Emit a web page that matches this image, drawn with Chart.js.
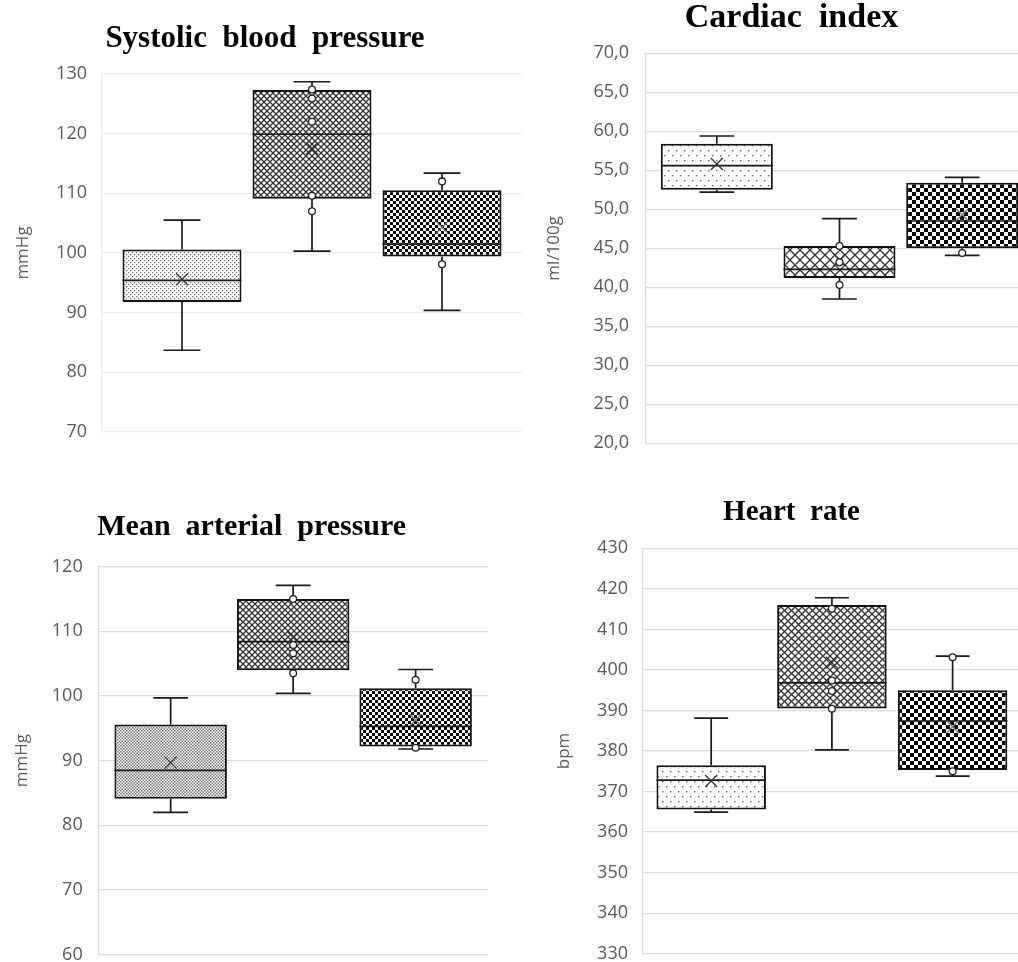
<!DOCTYPE html>
<html>
<head>
<meta charset="utf-8">
<script src="https://cdn.jsdelivr.net/npm/chart.js@4.4.1/dist/chart.umd.min.js"></script>
<style>
  html, body { margin: 0; padding: 0; background: #fff; }
  #page { position: relative; width: 1018px; height: 962px; overflow: hidden; background: #fff; }
  #page canvas { position: absolute; }
</style>
</head>
<body>
<div id="page">
  <canvas id="sbp"></canvas>
  <canvas id="ci"></canvas>
  <canvas id="map"></canvas>
  <canvas id="hr"></canvas>
</div>
<script>
/* ---------- data ---------- */
const groups = ["Group 1", "Group 2", "Group 3"];

// Systolic blood pressure (mmHg)
const sbpLow    = [83.7, 100.3, 90.4];
const sbpQ1     = [91.8, 109.1, 99.4];
const sbpMedian = [95.4, 119.9, 101.5];
const sbpQ3     = [100.6, 127.3, 110.5];
const sbpHigh   = [105.5, 128.7, 113.4];
const sbpMean   = [95.6, 117.5, 104.3];
const sbpPoints = [[], [127.4, 125.9, 122.0, 109.6, 107.0], [112.0, 98.1]];

// Cardiac index (ml/100g)
const ciLow    = [52.2, 38.5, 44.1];
const ciQ1     = [52.5, 41.2, 45.0];
const ciMedian = [55.6, 42.3, 48.5];
const ciQ3     = [58.4, 45.3, 53.4];
const ciHigh   = [59.4, 48.8, 54.1];
const ciMean   = [55.8, 43.5, 49.3];
const ciPoints = [[], [45.3, 43.2, 40.3], [44.4]];

// Mean arterial pressure (mmHg)
const mapLow    = [82.0, 100.4, 91.8];
const mapQ1     = [84.1, 104.0, 92.2];
const mapMedian = [88.5, 108.4, 95.3];
const mapQ3     = [95.6, 115.0, 101.2];
const mapHigh   = [99.7, 117.1, 104.1];
const mapMean   = [89.7, 109.1, 96.3];
const mapPoints = [[], [115.0, 107.9, 106.6, 103.5], [102.5, 92.0]];

// Heart rate (bpm)
const hrLow    = [364.9, 380.3, 373.8];
const hrQ1     = [365.6, 390.5, 375.3];
const hrMedian = [372.8, 396.8, 387.4];
const hrQ3     = [376.5, 416.0, 395.0];
const hrHigh   = [388.1, 417.8, 403.4];
const hrMean   = [372.6, 401.8, 386.0];
const hrPoints = [[], [415.1, 397.4, 394.8, 390.4], [403.1, 375.0]];

/* ---------- fill patterns ---------- */
function tileCanvas(w, h) {
  const c = document.createElement("canvas");
  c.width = w; c.height = h;
  const g = c.getContext("2d");
  g.fillStyle = "#fff";
  g.fillRect(0, 0, w, h);
  return [c, g];
}
function dots(sx, sy, r, color) {
  const [c, g] = tileCanvas(sx, sy * 2);
  g.fillStyle = color;
  g.fillRect(0, 0, r, r);
  g.fillRect(sx / 2, sy, r, r);
  return g.createPattern(c, "repeat");
}
function hatch(s, color, lw) {
  const [c, g] = tileCanvas(s, s);
  g.strokeStyle = color;
  g.lineWidth = lw;
  g.beginPath();
  g.moveTo(-1, -1); g.lineTo(s + 1, s + 1);
  g.moveTo(-1, s + 1); g.lineTo(s + 1, -1);
  g.stroke();
  return g.createPattern(c, "repeat");
}
function checker(s) {
  const [c, g] = tileCanvas(s * 2, s * 2);
  g.fillStyle = "#000";
  g.fillRect(0, 0, s, s);
  g.fillRect(s, s, s, s);
  return g.createPattern(c, "repeat");
}

/* ---------- whiskers, medians, means, points ---------- */
function boxExtras(st) {
  return {
    id: "boxExtras",
    afterDatasetsDraw(chart) {
      const ctx = chart.ctx;
      const y = chart.scales.y;
      ctx.save();
      groups.forEach((g, i) => {
        const bar = chart.getDatasetMeta(i).data[0];
        const x = bar.x, w = bar.width, cap = w * 0.31;
        ctx.strokeStyle = "#1a1a1a";
        ctx.lineWidth = 1.7;
        ctx.beginPath();
        // median
        ctx.moveTo(x - w / 2, y.getPixelForValue(st.median[i]));
        ctx.lineTo(x + w / 2, y.getPixelForValue(st.median[i]));
        // upper whisker
        ctx.moveTo(x, y.getPixelForValue(st.q3[i]));
        ctx.lineTo(x, y.getPixelForValue(st.high[i]));
        ctx.moveTo(x - cap / 2, y.getPixelForValue(st.high[i]));
        ctx.lineTo(x + cap / 2, y.getPixelForValue(st.high[i]));
        // lower whisker
        ctx.moveTo(x, y.getPixelForValue(st.q1[i]));
        ctx.lineTo(x, y.getPixelForValue(st.low[i]));
        ctx.moveTo(x - cap / 2, y.getPixelForValue(st.low[i]));
        ctx.lineTo(x + cap / 2, y.getPixelForValue(st.low[i]));
        ctx.stroke();
        // mean marker
        const my = y.getPixelForValue(st.mean[i]);
        ctx.strokeStyle = i === 2 ? "#777" : "#333";
        ctx.lineWidth = 1.3;
        ctx.beginPath();
        ctx.moveTo(x - 6, my - 6); ctx.lineTo(x + 6, my + 6);
        ctx.moveTo(x - 6, my + 6); ctx.lineTo(x + 6, my - 6);
        ctx.stroke();
        // data points
        ctx.strokeStyle = "#222";
        ctx.lineWidth = 1.3;
        st.points[i].forEach(v => {
          ctx.beginPath();
          ctx.arc(x, y.getPixelForValue(v), 3.4, 0, Math.PI * 2);
          ctx.fillStyle = "#fff";
          ctx.fill();
          ctx.stroke();
        });
      });
      ctx.restore();
    }
  };
}

/* ---------- one panel ---------- */
function boxChart(id, st, L) {
  const el = document.getElementById(id);
  el.width = L.cw; el.height = L.ch;
  el.style.left = L.cx + "px";
  el.style.top = L.cy + "px";

  const innerLeft = 2 * L.titleX - L.plotR;
  const titleLh = L.titleSize * 1.2;

  new Chart(el, {
    type: "bar",
    data: {
      labels: [L.title],
      datasets: groups.map((g, i) => ({
        label: g,
        data: [[st.q1[i], st.q3[i]]],
        backgroundColor: L.fills[i],
        borderColor: "#111",
        borderWidth: 2,
        borderSkipped: false,
        categoryPercentage: L.catPct,
        barPercentage: L.barPct
      }))
    },
    options: {
      responsive: false,
      animation: false,
      devicePixelRatio: 1,
      events: [],
      layout: {
        padding: {
          left: innerLeft - L.cx,
          right: L.cx + L.cw - L.plotR,
          top: 0,
          bottom: L.cy + L.ch - L.plotB
        }
      },
      plugins: {
        legend: { display: false },
        tooltip: { enabled: false },
        title: {
          display: true,
          text: L.titleText,
          color: "#000",
          font: { family: '"Liberation Serif", "Times New Roman", serif', size: L.titleSize, weight: "bold", lineHeight: 1.2 },
          padding: { top: L.titleY - L.cy - titleLh / 2, bottom: L.plotT - L.titleY - titleLh / 2 }
        }
      },
      scales: {
        x: { display: false },
        y: {
          min: L.min,
          max: L.max,
          ticks: {
            stepSize: L.step,
            color: "#595959",
            padding: L.plotL - L.tickRight,
            font: { family: '"Open Sans", sans-serif', size: 18 },
            callback: L.fmt
          },
          grid: { color: L.gridColor, lineWidth: 1.2, drawTicks: false },
          border: { display: true, color: L.gridColor, width: 1.2 },
          title: {
            display: true,
            text: L.unit,
            color: "#595959",
            font: { family: '"Open Sans", sans-serif', size: 17, lineHeight: 1 },
            padding: { top: L.unitX - innerLeft - 8.5, bottom: 0 }
          },
          afterFit(scale) { scale.width = L.plotL - innerLeft; }
        }
      }
    },
    plugins: [boxExtras(st)]
  });
}

const intFmt = v => String(v);
const commaFmt = v => v.toFixed(1).replace(".", ",");

boxChart("sbp",
  { low: sbpLow, q1: sbpQ1, median: sbpMedian, q3: sbpQ3, high: sbpHigh, mean: sbpMean, points: sbpPoints },
  { cx: 0, cy: 0, cw: 530, ch: 481,
    plotL: 102, plotR: 522, plotT: 74, plotB: 432, tickRight: 87, unitX: 23,
    titleText: "Systolic  blood  pressure", title: "Systolic blood pressure", titleX: 265, titleY: 38.5, titleSize: 31,
    unit: "mmHg", min: 70, max: 130, step: 10, fmt: intFmt, gridColor: "#ececec",
    catPct: 0.9286, barPct: 0.915,
    fills: [dots(4, 2, 1.2, "#6a6a6a"), hatch(6, "#333", 1.3), checker(3)] });

boxChart("ci",
  { low: ciLow, q1: ciQ1, median: ciMedian, q3: ciQ3, high: ciHigh, mean: ciMean, points: ciPoints },
  { cx: 540, cy: -20, cw: 500, ch: 500,
    plotL: 646, plotR: 1033, plotT: 53.3, plotB: 443.3, tickRight: 629, unitX: 554,
    titleText: "Cardiac  index", title: "Cardiac index", titleX: 791.5, titleY: 18.5, titleSize: 34,
    unit: "ml/100g", min: 20, max: 70, step: 5, fmt: commaFmt, gridColor: "#dcdcdc",
    catPct: 0.951, barPct: 0.913,
    fills: [dots(8, 5, 1.4, "#666"), hatch(10, "#333", 1.3), checker(4)] });

boxChart("map",
  { low: mapLow, q1: mapQ1, median: mapMedian, q3: mapQ3, high: mapHigh, mean: mapMean, points: mapPoints },
  { cx: 0, cy: 481, cw: 500, ch: 500,
    plotL: 98.3, plotR: 488, plotT: 566.7, plotB: 957.3, tickRight: 82.7, unitX: 21.7,
    titleText: "Mean  arterial  pressure", title: "Mean arterial pressure", titleX: 251.7, titleY: 527, titleSize: 30,
    unit: "mmHg", min: 60, max: 120, step: 10, fmt: intFmt, gridColor: "#dcdcdc",
    catPct: 0.943, barPct: 0.918,
    fills: [dots(3, 1.5, 1.5, "#7a7a7a"), hatch(6, "#333", 1.3), checker(3)] });

boxChart("hr",
  { low: hrLow, q1: hrQ1, median: hrMedian, q3: hrQ3, high: hrHigh, mean: hrMean, points: hrPoints },
  { cx: 550, cy: 481, cw: 480, ch: 500,
    plotL: 642.3, plotR: 1021.5, plotT: 548.3, plotB: 953.7, tickRight: 628, unitX: 564,
    titleText: "Heart  rate", title: "Heart rate", titleX: 791.5, titleY: 513, titleSize: 29,
    unit: "bpm", min: 330, max: 430, step: 10, fmt: intFmt, gridColor: "#dcdcdc",
    catPct: 0.955, barPct: 0.907,
    fills: [dots(8, 5, 1.4, "#666"), hatch(7, "#333", 1.3), checker(4)] });
</script>
</body>
</html>
